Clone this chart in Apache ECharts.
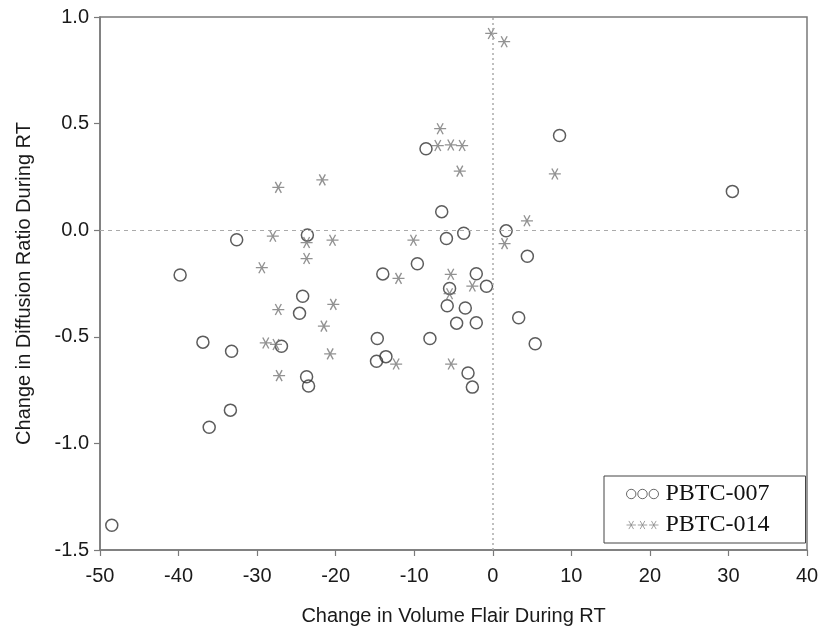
<!DOCTYPE html>
<html>
<head>
<meta charset="utf-8">
<script src="https://cdn.jsdelivr.net/npm/echarts@6/dist/echarts.min.js"></script>
<style>
  html, body { margin: 0; padding: 0; background: #fff; }
  #main { width: 820px; height: 630px; }
</style>
</head>
<body>
<div id="main"></div>
<script>
// PBTC-007 (circles): [change in volume, change in diffusion ratio]
var pbtc007 = [
  [-32.6, -0.045], [-23.6, -0.023], [-39.8, -0.21], [-24.2, -0.31], [-24.6, -0.39],
  [-14.0, -0.205], [-9.6, -0.157], [-8.5, 0.382], [8.5, 0.444], [30.5, 0.182],
  [-6.5, 0.087], [1.7, -0.003], [-3.7, -0.014], [-5.9, -0.039], [4.4, -0.122],
  [-2.1, -0.204], [-5.5, -0.273], [-0.8, -0.263], [-5.8, -0.354], [-3.5, -0.365],
  [3.3, -0.411], [-4.6, -0.436], [-2.1, -0.434], [-8.0, -0.508], [5.4, -0.533],
  [-3.15, -0.67], [-2.6, -0.736], [-36.9, -0.525], [-33.25, -0.568], [-26.9, -0.544],
  [-14.7, -0.508], [-13.6, -0.593], [-14.8, -0.615], [-23.7, -0.687], [-23.45, -0.731],
  [-33.4, -0.844], [-36.1, -0.924], [-48.5, -1.384]
];
// PBTC-014 (stars)
var pbtc014 = [
  [-27.3, 0.201], [-21.7, 0.236], [-28.0, -0.028], [-23.7, -0.058], [-20.4, -0.047],
  [-23.7, -0.133], [-29.4, -0.176], [-12.0, -0.226], [-10.1, -0.047], [-20.3, -0.348],
  [-27.3, -0.372], [-0.2, 0.923], [1.45, 0.884], [-6.7, 0.476], [-7.0, 0.397],
  [-5.35, 0.40], [-3.9, 0.397], [-4.2, 0.277], [7.9, 0.264], [4.35, 0.044],
  [1.5, -0.063], [-5.35, -0.207], [-5.5, -0.298], [-2.6, -0.262], [-5.3, -0.628],
  [-21.5, -0.45], [-28.9, -0.529], [-27.6, -0.536], [-20.7, -0.58], [-12.3, -0.628],
  [-27.2, -0.682]
];
var seriesNames = ['PBTC-007', 'PBTC-014'];
var xTitle = 'Change in Volume Flair During RT';
var yTitle = 'Change in Diffusion Ratio During RT';

var starPath = 'path://M0,5L10,5M2.5,0.67L7.5,9.33M7.5,0.67L2.5,9.33';
var threeCircles = 'path://M0,5a5,5 0 1,0 10,0a5,5 0 1,0 -10,0M12,5a5,5 0 1,0 10,0a5,5 0 1,0 -10,0M24,5a5,5 0 1,0 10,0a5,5 0 1,0 -10,0';
var threeStars = 'path://M0,5L10,5M2.5,0.67L7.5,9.33M7.5,0.67L2.5,9.33M12,5L22,5M14.5,0.67L19.5,9.33M19.5,0.67L14.5,9.33M24,5L34,5M26.5,0.67L31.5,9.33M31.5,0.67L26.5,9.33';

var axisColor = '#7a7a7a';
var labelStyle = { color: '#1a1a1a', fontSize: 20, fontFamily: 'Liberation Sans' };

var myChart = echarts.init(document.getElementById('main'));
var option = {
  animation: false,
  backgroundColor: '#fff',
  grid: {
    left: 100, right: 13, top: 17, bottom: 80,
    outerBoundsMode: 'none',
    containLabel: false,
    show: true, borderColor: axisColor, borderWidth: 1.5
  },
  legend: {
    orient: 'vertical',
    left: 604, top: 476,
    padding: [6, 36, 6, 20],
    itemGap: 7,
    itemWidth: 32, itemHeight: 10,
    borderColor: '#444', borderWidth: 1,
    backgroundColor: '#fff',
    textStyle: { fontFamily: 'Liberation Serif', fontSize: 24, color: '#111', padding: [0, 0, 0, 2] },
    data: [
      { name: seriesNames[0], icon: threeCircles,
        itemStyle: { color: 'none', borderColor: '#444', borderWidth: 1 } },
      { name: seriesNames[1], icon: threeStars,
        itemStyle: { color: 'none', borderColor: '#888', borderWidth: 1 } }
    ]
  },
  xAxis: {
    type: 'value', min: -50, max: 40, interval: 10,
    name: xTitle, nameLocation: 'middle', nameGap: 56,
    nameTextStyle: { color: '#1a1a1a', fontSize: 20, fontFamily: 'Liberation Sans' },
    axisLine: { show: true, onZero: false, lineStyle: { color: axisColor, width: 1.5 } },
    axisTick: { show: true, length: 6, lineStyle: { color: axisColor, width: 1.2 } },
    axisLabel: Object.assign({ margin: 16 }, labelStyle),
    splitLine: { show: false }
  },
  yAxis: {
    type: 'value', min: -1.5, max: 1.0, interval: 0.5,
    name: yTitle, nameLocation: 'middle', nameGap: 66,
    nameTextStyle: { color: '#1a1a1a', fontSize: 20, fontFamily: 'Liberation Sans' },
    axisLine: { show: true, onZero: false, lineStyle: { color: axisColor, width: 1.5 } },
    axisTick: { show: true, length: 6, lineStyle: { color: axisColor, width: 1.2 } },
    axisLabel: Object.assign({ margin: 11, formatter: function (v) { return v.toFixed(1); } }, labelStyle),
    splitLine: { show: false }
  },
  series: [
    {
      name: seriesNames[0],
      type: 'scatter',
      symbol: 'circle',
      symbolSize: 12,
      z: 3,
      itemStyle: { color: 'none', borderColor: '#333', borderWidth: 1.5 },
      data: pbtc007,
      markLine: {
        silent: true,
        symbol: 'none',
        label: { show: false },
        lineStyle: { color: '#aaa', width: 1.2, type: [4, 4] },
        data: [
          { yAxis: 0, lineStyle: { type: [4, 4], color: '#aaa', width: 1.2 } },
          { xAxis: 0, lineStyle: { type: [2, 3], color: '#aaa', width: 1.5 } }
        ]
      }
    },
    {
      name: seriesNames[1],
      type: 'scatter',
      symbol: starPath,
      symbolSize: [12, 11],
      z: 3,
      itemStyle: { color: 'none', borderColor: '#777', borderWidth: 1.3 },
      data: pbtc014
    }
  ]
};
myChart.setOption(option);
</script>
</body>
</html>
